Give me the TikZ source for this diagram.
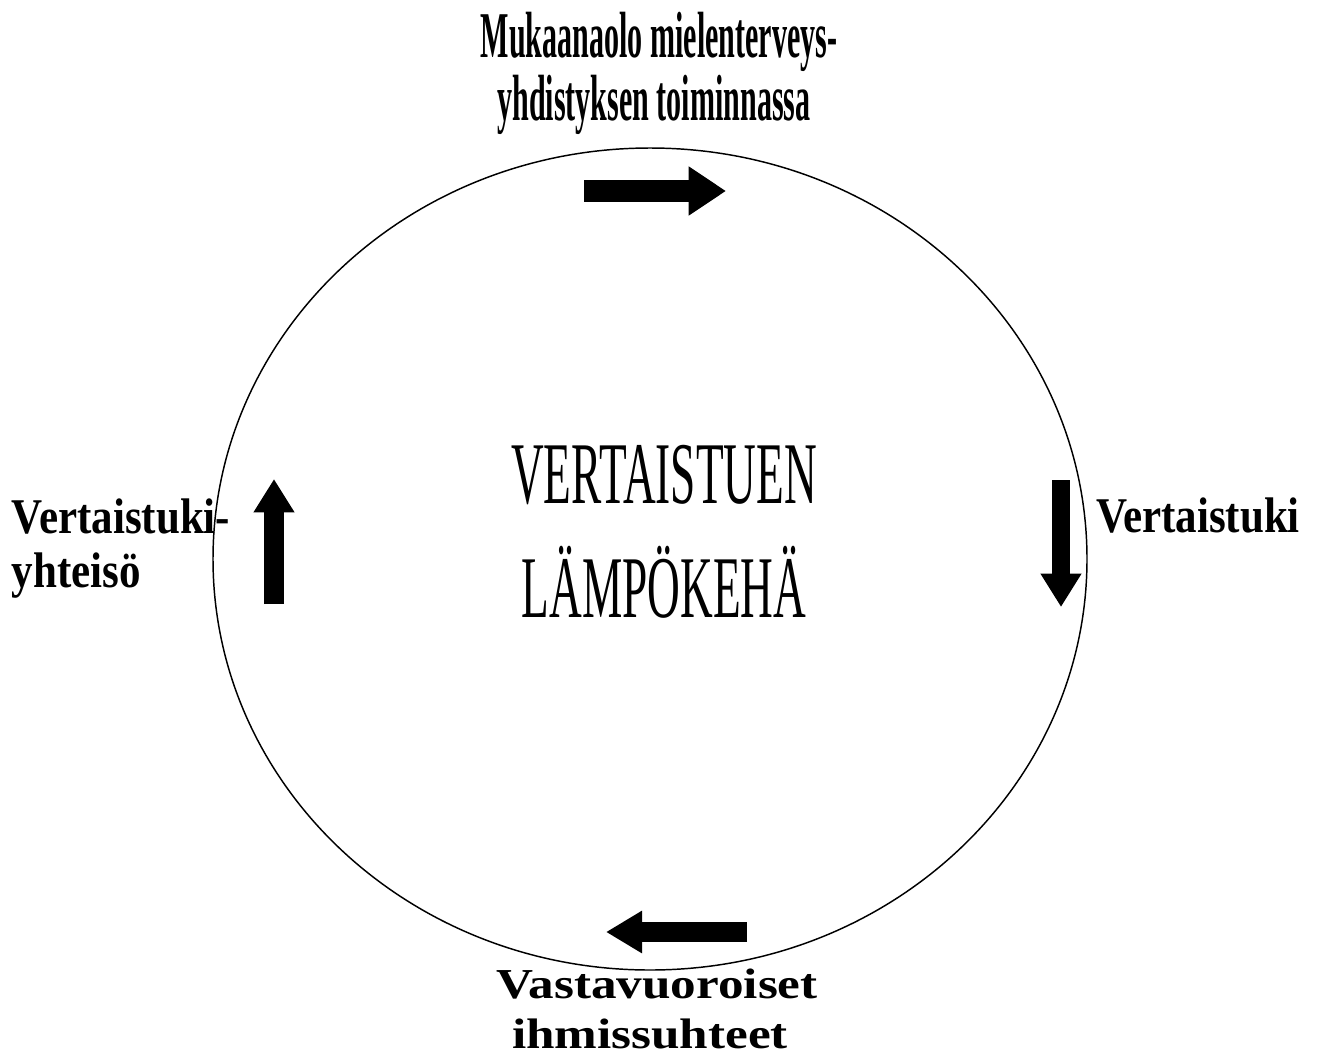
\documentclass[tikz,border=0pt]{standalone}
\usepackage{fontspec}
\setmainfont{Liberation Serif}
\newfontfamily\topfont[FakeStretch=0.46]{Liberation Serif}
\newfontfamily\midfont[FakeStretch=0.515]{Liberation Serif}
\newfontfamily\sidefont[FakeStretch=0.86]{Liberation Serif}
\newfontfamily\botfont[FakeStretch=1.2]{Liberation Serif}
\usetikzlibrary{arrows.meta}
\begin{document}
\begin{tikzpicture}[x=0.75pt, y=-0.75pt,
	lbl/.style={inner sep=0pt, outer sep=0pt},
	bigarrow/.style={line width=15pt, -{Triangle[length=25pt, width=29pt]}}]
	\useasboundingbox (0,0) rectangle (1317,1057);

	% circle
	\draw[line width=1.1pt] (650,559) ellipse [x radius=437, y radius=411];

	% top
	\node[lbl, anchor=base] (top1) at (659,57) {\fontsize{49}{49}\topfont\bfseries Mukaanaolo mielenterveys-};
	\node[lbl, anchor=base] (top2) at (654,120) {\fontsize{49}{49}\topfont\bfseries yhdistyksen toiminnassa};

	% center
	\node[lbl, anchor=base] (mid1) at (664,503) {\fontsize{66}{66}\midfont VERTAISTUEN};
	\node[lbl, anchor=base] (mid2) at (664,617) {\fontsize{66}{66}\midfont LÄMPÖKEHÄ};

	% sides
	\node[lbl, anchor=base west] (left1) at (12,533) {\fontsize{37.5}{37.5}\sidefont\bfseries Vertaistuki-};
	\node[lbl, anchor=base west] (left2) at (12,587) {\fontsize{37.5}{37.5}\sidefont\bfseries yhteisö};
	\node[lbl, anchor=base west] (right1) at (1096,532) {\fontsize{37.5}{37.5}\sidefont\bfseries Vertaistuki};

	% bottom
	\node[lbl, anchor=base] (bot1) at (657,998) {\fontsize{32}{32}\botfont\bfseries Vastavuoroiset};
	\node[lbl, anchor=base] (bot2) at (650,1048) {\fontsize{32}{32}\botfont\bfseries ihmissuhteet};

	% arrows
	\coordinate (ta) at (584,191);
	\coordinate (tb) at (726,191);
	\coordinate (ra) at (1061,480);
	\coordinate (rb) at (1061,607);
	\coordinate (ba) at (747,932);
	\coordinate (bb) at (606,932);
	\coordinate (la) at (274,604);
	\coordinate (lb) at (274,479);
	\draw[bigarrow, line width=17pt, -{Triangle[length=28pt, width=35pt]}] (ta) -- (tb);
	\draw[bigarrow, line width=13.5pt] (ra) -- (rb);
	\draw[bigarrow, -{Triangle[length=27pt, width=30pt]}] (ba) -- (bb);
	\draw[bigarrow] (la) -- (lb);
\end{tikzpicture}
\end{document}
